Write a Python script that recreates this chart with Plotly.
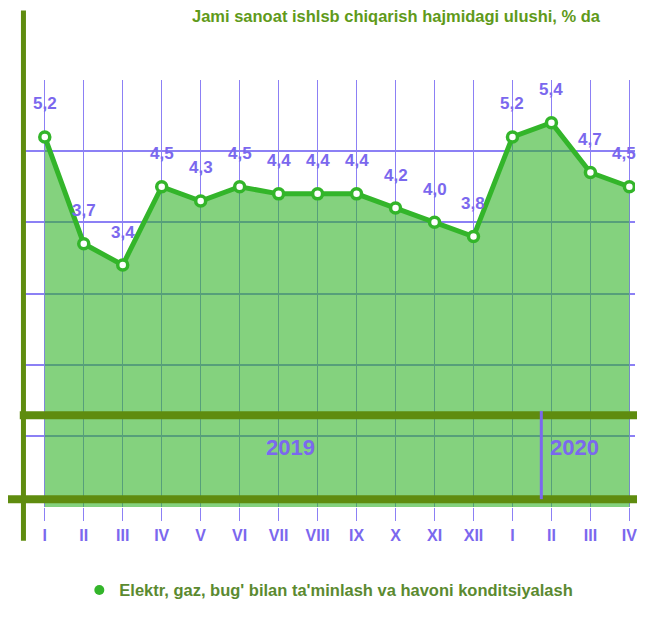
import plotly.graph_objects as go

# data
months = ["I", "II", "III", "IV", "V", "VI", "VII", "VIII", "IX", "X", "XI", "XII",
          "I", "II", "III", "IV"]
share = [5.2, 3.7, 3.4, 4.5, 4.3, 4.5, 4.4, 4.4, 4.4, 4.2, 4.0, 3.8, 5.2, 5.4, 4.7, 4.5]
value_labels = ["5,2", "3,7", "3,4", "4,5", "4,3", "4,5", "4,4", "4,4", "4,4", "4,2",
                "4,0", "3,8", "5,2", "5,4", "4,7", "4,5"]
years = ["2019", "2020"]
series_name = "Elektr, gaz, bug' bilan ta'minlash va havoni konditsiyalash"
title_text = "Jami sanoat ishlsb chiqarish hajmidagi ulushi, % da"

x_idx = list(range(len(months)))

FONT = "Liberation Sans, Arial, sans-serif"
PURPLE = "#7b68ee"
GRID = "#8c80f5"
GREEN = "#33b52a"
OLIVE = "#5f8c0f"

fig = go.Figure()

fig.add_trace(go.Scatter(
    x=x_idx, y=share,
    mode="lines+markers",
    line=dict(color=GREEN, width=5),
    marker=dict(size=10, color="white", line=dict(color=GREEN, width=3.5)),
    fill="tozeroy",
    fillcolor="rgba(50,180,40,0.6)",
    showlegend=False,
    hoverinfo="skip",
))

# legend only entry
fig.add_trace(go.Scatter(
    x=[None], y=[None], mode="markers",
    marker=dict(size=10, color=GREEN),
    name=series_name,
))

# value labels above the points (last one nudged so it stays on the page)
for xi, yi, lab in zip(x_idx, share, value_labels):
    fig.add_annotation(
        x=xi, y=yi, text=lab, showarrow=False,
        yanchor="middle", yshift=33, xshift=-5 if xi == x_idx[-1] else 0,
        font=dict(family=FONT, size=17, color=PURPLE, weight="bold"),
    )

# thick olive bars and the left axis line
fig.add_shape(type="line", xref="paper", yref="y", x0=-0.002, x1=1.02, y0=1.29, y1=1.29,
              line=dict(color=OLIVE, width=8), layer="above")
fig.add_shape(type="line", xref="paper", yref="y", x0=-0.03, x1=1.02, y0=0.11, y1=0.11,
              line=dict(color=OLIVE, width=8), layer="above")
fig.add_shape(type="line", xref="paper", yref="paper", x0=0.004, x1=0.004, y0=-0.079, y1=1.163,
              line=dict(color=OLIVE, width=5), layer="above")
# year separator
fig.add_shape(type="line", xref="x", yref="y", x0=12.74, x1=12.74, y0=0.11, y1=1.35,
              line=dict(color=PURPLE, width=3), layer="above")

fig.add_annotation(x=6.3, y=0.84, text=years[0], showarrow=False,
                   font=dict(family=FONT, size=22, color=PURPLE, weight="bold"))
fig.add_annotation(x=13.6, y=0.84, text=years[1], showarrow=False,
                   font=dict(family=FONT, size=22, color=PURPLE, weight="bold"))

fig.add_annotation(xref="paper", yref="paper", x=0.612, y=1.149, text=title_text,
                   showarrow=False, yanchor="middle",
                   font=dict(family=FONT, size=16.5, color="#5f9a1a", weight="bold"))

fig.update_layout(
    width=629, height=600,
    margin=dict(l=13, r=0, t=72, b=92),
    plot_bgcolor="white", paper_bgcolor="white",
    xaxis=dict(
        range=[-0.61, 15.144],
        tickvals=x_idx, ticktext=months,
        showgrid=True, gridcolor=GRID, gridwidth=1,
        ticks="outside", ticklen=13, tickcolor=GRID, tickwidth=1,
        ticklabelstandoff=1, ticklabeloverflow="allow",
        tickfont=dict(family=FONT, size=16, color=PURPLE, weight="bold"),
        zeroline=False, showline=False,
    ),
    yaxis=dict(
        range=[0, 6], dtick=1,
        showgrid=True, gridcolor=GRID, gridwidth=2,
        showticklabels=False, zeroline=False, showline=False,
    ),
    legend=dict(
        orientation="h", x=0.095, xanchor="left", y=-0.195, yanchor="middle",
        font=dict(family=FONT, size=16.5, color="#5b8a30", weight="bold"),
        itemwidth=30,
    ),
    showlegend=True,
)

fig.write_html("out.html")
